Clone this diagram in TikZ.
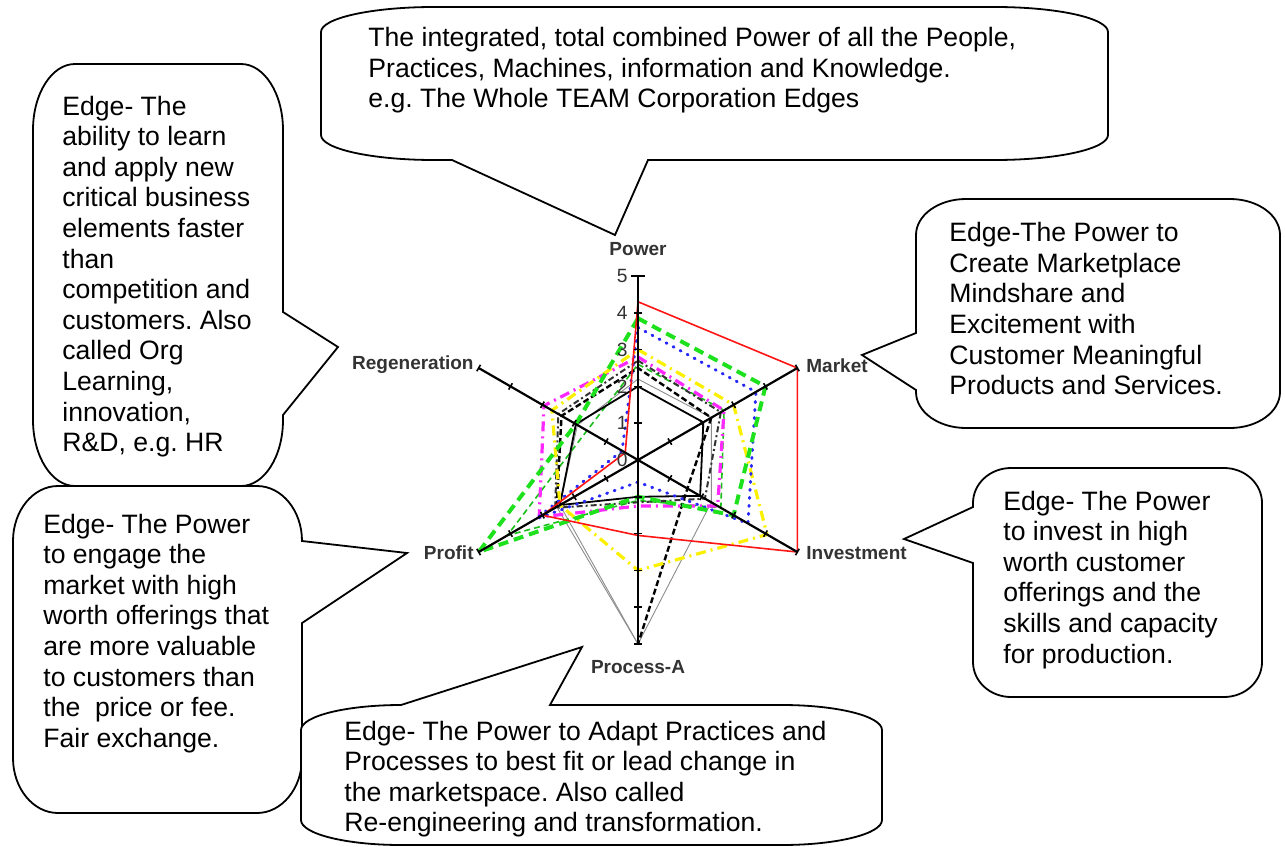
\documentclass[tikz,border=0pt]{standalone}
\usepackage{fontspec}
\setmainfont{Liberation Sans}
\usetikzlibrary{calc}
\frenchspacing
\definecolor{serRed}{RGB}{255,20,20}
\definecolor{serGreen}{RGB}{30,225,30}
\definecolor{serBlue}{RGB}{40,40,250}
\definecolor{serYellow}{RGB}{250,240,0}
\definecolor{serMagenta}{RGB}{255,40,255}
% one closed series of the radar chart: style, then the values on
% Power, Market, Investment, Process-A, Profit, Regeneration
\newcommand\radarline[7]{\draw[#1] (270:#2) -- (-30:#3) -- (30:#4) -- (90:#5) -- (150:#6) -- (210:#7) -- cycle;}
\begin{document}
\begin{tikzpicture}[x=0.5pt,y=-0.5pt,
  bubble/.style={draw=black,line width=0.9pt,fill=white,line join=miter},
  bubbletext/.style={anchor=base west,inner sep=0pt,font=\fontsize{13.3}{15.3}\selectfont},
  axislabel/.style={inner sep=0pt,text=black!80,font=\fontsize{9.5}{11}\selectfont\bfseries},
  scalenum/.style={inner sep=0pt,anchor=east,text=black!80,font=\fontsize{9.6}{11}\selectfont},
  axisline/.style={line width=1.1pt,black},
  tickmark/.style={line width=0.8pt,black},
  sRed/.style={serRed,line width=0.8pt},
  sGreen/.style={serGreen,line width=2pt,dash pattern=on 5pt off 3pt},
  sGreenThin/.style={serGreen!85!black,line width=0.8pt,dash pattern=on 3pt off 2pt},
  sBlue/.style={serBlue,line width=1.5pt,line cap=round,dash pattern=on 0.5pt off 3.5pt},
  sYellow/.style={serYellow,line width=1.6pt,dash pattern=on 5pt off 2.5pt on 1pt off 2.5pt},
  sMagenta/.style={serMagenta,line width=1.6pt,dash pattern=on 5pt off 2.5pt on 1pt off 2.5pt},
  sBlackDash/.style={black,line width=1.2pt,dash pattern=on 3pt off 1.5pt},
  sBlackDashDot/.style={black!80,line width=1pt,dash pattern=on 3pt off 1.5pt on 1pt off 1.5pt},
  sBlackSolid/.style={black,line width=0.9pt},
  sGray/.style={black!45,line width=0.45pt}
]
\useasboundingbox (0,0) rectangle (1285,846);

% ---------- callout pointer tips ----------
\coordinate (tipA) at (615,235);
\coordinate (tipB) at (338,347);
\coordinate (tipC) at (407,553);
\coordinate (tipD) at (862,355);
\coordinate (tipE) at (904,539);
\coordinate (tipF) at (582,647);

% ---------- callout outlines ----------
% whole-team power (top)
\draw[bubble] (321,32) arc[start angle=180,end angle=270,x radius=113,y radius=25]
  -- (995,7) arc[start angle=270,end angle=360,x radius=113,y radius=25]
  -- (1108,135) arc[start angle=0,end angle=90,x radius=113,y radius=25]
  -- (648,160) -- (tipA) -- (452,160)
  -- (434,160) arc[start angle=90,end angle=180,x radius=113,y radius=25] -- cycle;
% regeneration (left, upper)
\draw[bubble] (33,130) arc[start angle=180,end angle=270,x radius=42,y radius=66]
  -- (241,64) arc[start angle=270,end angle=360,x radius=42,y radius=66]
  -- (283,312) -- (tipB) -- (283,415)
  -- (283,420) arc[start angle=0,end angle=90,x radius=42,y radius=66]
  -- (75,486) arc[start angle=90,end angle=180,x radius=42,y radius=66] -- cycle;
% profit (left, lower)
\draw[bubble] (13,541) arc[start angle=180,end angle=270,x radius=45,y radius=55]
  -- (257,486) arc[start angle=270,end angle=360,x radius=45,y radius=55]
  -- (tipC) -- (302,623)
  -- (302,758) arc[start angle=0,end angle=90,x radius=45,y radius=55]
  -- (58,813) arc[start angle=90,end angle=180,x radius=45,y radius=55] -- cycle;
% market (right, upper)
\draw[bubble] (916,235) arc[start angle=180,end angle=270,x radius=50,y radius=36]
  -- (1230,199) arc[start angle=270,end angle=360,x radius=50,y radius=36]
  -- (1280,392) arc[start angle=0,end angle=90,x radius=50,y radius=36]
  -- (966,428) arc[start angle=90,end angle=180,x radius=50,y radius=36]
  -- (916,390) -- (tipD) -- (916,333) -- cycle;
% investment (right, lower)
\draw[bubble] (973,503) arc[start angle=180,end angle=270,x radius=38,y radius=35]
  -- (1224,468) arc[start angle=270,end angle=360,x radius=38,y radius=35]
  -- (1262,662) arc[start angle=0,end angle=90,x radius=38,y radius=35]
  -- (1011,697) arc[start angle=90,end angle=180,x radius=38,y radius=35]
  -- (973,563) -- (tipE) -- (973,507) -- cycle;
% process (bottom)
\draw[bubble] (301,730) arc[start angle=180,end angle=270,x radius=100,y radius=25]
  -- (tipF) -- (550,705)
  -- (782,705) arc[start angle=270,end angle=360,x radius=100,y radius=25]
  -- (882,820) arc[start angle=0,end angle=90,x radius=100,y radius=25]
  -- (401,845) arc[start angle=90,end angle=180,x radius=100,y radius=25] -- cycle;

% ---------- callout texts ----------
\node[bubbletext] (txtWhole) at (368,46.7) {\begin{tabular}[t]{@{}l@{}}The integrated, total combined Power of all the People,\\Practices, Machines, information and Knowledge.\\e.g. The Whole TEAM Corporation Edges\end{tabular}};
\node[bubbletext] (txtRegen) at (62,115) {\begin{tabular}[t]{@{}l@{}}Edge- The\\ability to learn\\and apply new\\critical business\\elements faster\\than\\competition and\\customers. Also\\called Org\\Learning,\\innovation,\\R\&D, e.g. HR\end{tabular}};
\node[bubbletext] (txtProfit) at (43,533) {\begin{tabular}[t]{@{}l@{}}Edge- The Power\\to engage the\\market with high\\worth offerings that\\are more valuable\\to customers than\\the\ \ price or fee.\\Fair exchange.\end{tabular}};
\node[bubbletext] (txtMarket) at (949,241.7) {\begin{tabular}[t]{@{}l@{}}Edge-The Power to\\Create Marketplace\\Mindshare and\\Excitement with\\Customer Meaningful\\Products and Services.\end{tabular}};
\node[bubbletext] (txtInvest) at (1003,510) {\begin{tabular}[t]{@{}l@{}}Edge- The Power\\to invest in high\\worth customer\\offerings and the\\skills and capacity\\for production.\end{tabular}};
\node[bubbletext] (txtProcess) at (344,740) {\begin{tabular}[t]{@{}l@{}}Edge- The Power to Adapt Practices and\\Processes to best fit or lead change in\\the marketspace. Also called\\Re-engineering and transformation.\end{tabular}};

% ---------- radar chart ----------
\coordinate (O) at (638,460);
\begin{scope}[shift={(O)},x=18.4pt,y=-18.4pt]
  % data series
  \radarline{sGray}{2.2}{2.3}{2.3}{5.0}{2.45}{1.9}
  \radarline{sGreenThin}{2.6}{2.7}{2.6}{1.1}{4.1}{1.6}
  \radarline{sBlackDashDot}{2.7}{2.6}{2.1}{1.15}{2.6}{2.5}
  \draw[sBlackDash] (150:2.55) -- (210:2.4) -- (270:2.5) -- (-30:2.3) -- (30:1.55) -- (90:5);
  \draw[sGray] (90:5) -- (150:2.55);
  \radarline{sBlackSolid}{2.0}{2.05}{1.95}{1.0}{2.45}{1.95}
  \radarline{sMagenta}{2.8}{2.7}{2.5}{1.25}{3.1}{2.95}
  \radarline{sYellow}{3.0}{3.0}{4.05}{3.0}{2.45}{2.7}
  \radarline{sBlue}{3.6}{3.7}{3.45}{0.6}{3.2}{0.5}
  \radarline{sGreen}{3.85}{4.0}{3.0}{1.0}{5.0}{1.95}
  \radarline{sRed}{4.3}{5}{5}{2.05}{3.0}{0.4}

  % axes
  \coordinate (axPower) at (270:5);
  \coordinate (axMarket) at (-30:5);
  \coordinate (axInvest) at (30:5);
  \coordinate (axProcess) at (90:5);
  \coordinate (axProfit) at (150:5);
  \coordinate (axRegen) at (210:5);
  \foreach \c in {axPower,axMarket,axInvest,axProcess,axProfit,axRegen}
    \draw[axisline] (O) -- (\c);
  \foreach \a in {270,-30,30,90,150,210}
    \foreach \k in {1,...,5}
      \draw[tickmark] ([shift={(\a+90:0.1)}]\a:\k) -- ([shift={(\a-90:0.1)}]\a:\k);
  \draw[tickmark] (-0.18,-5) -- (0.18,-5);
  % scale on the Power axis
  \foreach \k in {0,...,5}
    \node[scalenum] (num\k) at (-0.27,-\k) {\k};
\end{scope}

% axis names
\node[axislabel] (lblPower) at (638,249) {Power};
\node[axislabel,anchor=west] (lblMarket) at (806,366) {Market};
\node[axislabel,anchor=west] (lblInvest) at (806,553) {Investment};
\node[axislabel] (lblProcess) at (638,667) {Process-A};
\node[axislabel,anchor=east] (lblProfit) at (474,553) {Profit};
\node[axislabel,anchor=east] (lblRegen) at (474,365) {Regeneration};
\end{tikzpicture}
\end{document}
